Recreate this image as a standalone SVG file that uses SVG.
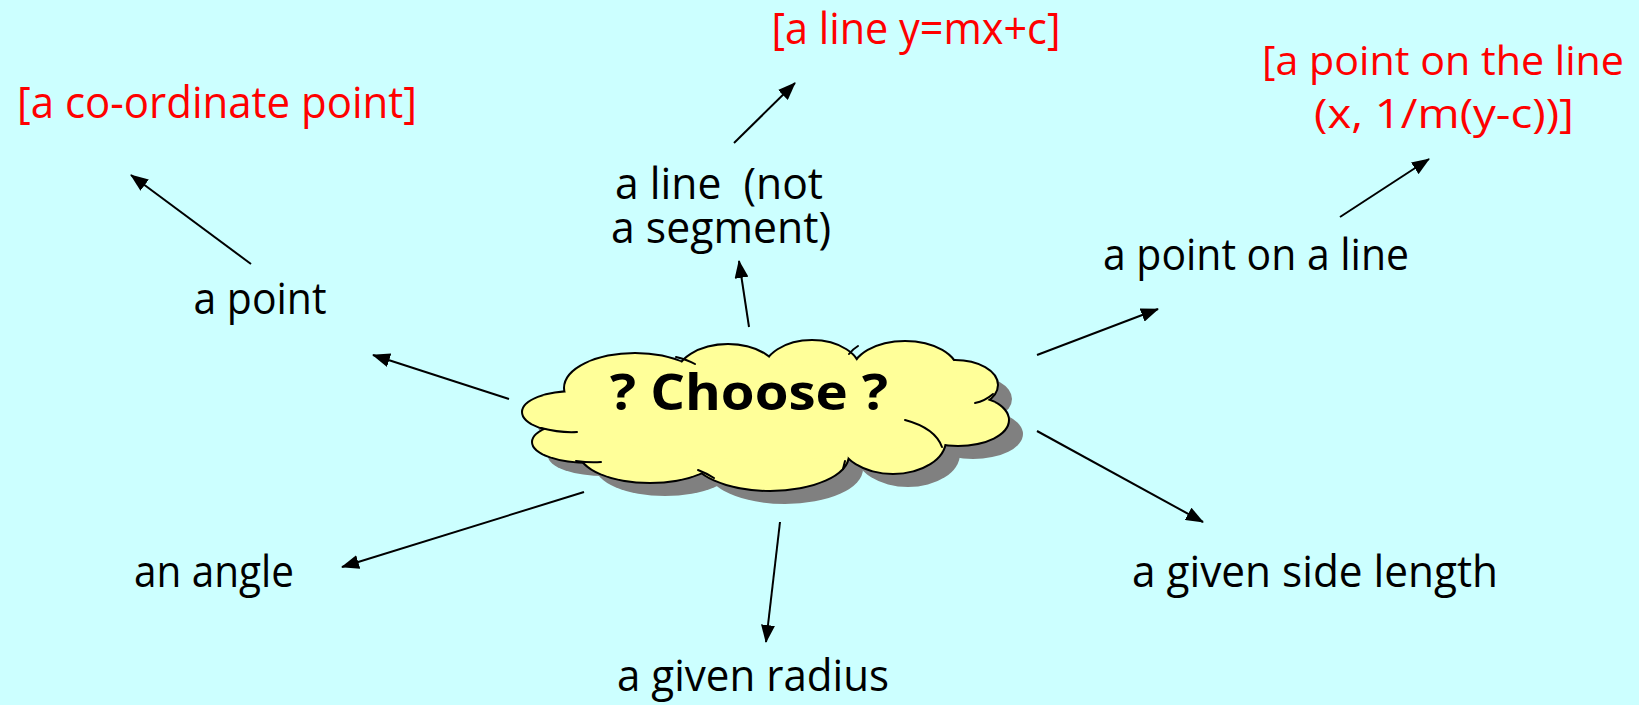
<svg xmlns="http://www.w3.org/2000/svg" width="1639" height="705" viewBox="0 0 1639 705">
<defs>
<style>
.t{font-family:"Open Sans","Noto Sans",sans-serif;font-size:44px;fill:#000;text-anchor:middle}
.r{fill:#FF0000}
.s{font-size:41px}
.b{font-weight:bold;font-size:50px}
.arc{stroke:#000;stroke-width:2;fill:none;stroke-linecap:round}
</style>
<marker id="ah" viewBox="0 0 18 14" refX="17" refY="7" markerWidth="18" markerHeight="14" markerUnits="userSpaceOnUse" orient="auto">
<path d="M0,0 L18,7 L0,14 z" fill="#000"/>
</marker>
<g id="blobs">
<ellipse cx="575" cy="412" rx="52" ry="20"/>
<ellipse cx="590" cy="442" rx="57" ry="20"/>
<ellipse cx="650" cy="452" rx="70" ry="30"/>
<ellipse cx="770" cy="455" rx="78" ry="35"/>
<ellipse cx="893" cy="440" rx="52" ry="33"/>
<ellipse cx="958" cy="420" rx="50" ry="25"/>
<ellipse cx="955" cy="385" rx="42" ry="24"/>
<ellipse cx="905" cy="372" rx="52" ry="30"/>
<ellipse cx="812" cy="372" rx="48" ry="31"/>
<ellipse cx="728" cy="378" rx="52" ry="33"/>
<ellipse cx="635" cy="388" rx="70" ry="34"/>
<ellipse cx="770" cy="412" rx="190" ry="48"/>
</g>
</defs>
<rect width="1639" height="705" fill="#CCFFFF"/>

<g id="cloud">
<use href="#blobs" fill="#808080" transform="translate(15,14)"/>
<use href="#blobs" fill="none" stroke="#000" stroke-width="4"/>
<use href="#blobs" fill="#FFFF99"/>
<path class="arc" d="M676,357 Q688,360 695,364"/>
<path class="arc" d="M858,346 Q853,349 849,354"/>
<path class="arc" d="M541,428 Q560,433 577,432"/>
<path class="arc" d="M576,461 Q590,463 601,462"/>
<path class="arc" d="M698,470 Q706,473 714,478"/>
<path class="arc" d="M845,461 Q844,465 843,469"/>
<path class="arc" d="M905,420 Q935,428 942,447"/>
<path class="arc" d="M993,394 Q985,401 975,403"/>
<text class="t b" x="749" y="410" textLength="278" lengthAdjust="spacingAndGlyphs">? Choose ?</text>
</g>

<g id="connectors" stroke="#000" stroke-width="2" fill="none" marker-end="url(#ah)">
<line x1="251" y1="264" x2="131" y2="175"/>
<line x1="734" y1="143" x2="795" y2="83"/>
<line x1="749" y1="327" x2="739" y2="261"/>
<line x1="509" y1="399" x2="373" y2="355"/>
<line x1="1037" y1="355" x2="1158" y2="309"/>
<line x1="584" y1="492" x2="342" y2="567"/>
<line x1="780" y1="522" x2="766" y2="642"/>
<line x1="1037" y1="431" x2="1203" y2="522"/>
<line x1="1340" y1="217" x2="1429" y2="159"/>
</g>

<g id="n-coord"><text class="t r" x="217" y="118" textLength="400" lengthAdjust="spacingAndGlyphs">[a co-ordinate point]</text></g>
<g id="n-yeq"><text class="t r" x="916" y="44" textLength="289" lengthAdjust="spacingAndGlyphs">[a line y=mx+c]</text></g>
<g id="n-pointline-red">
<text class="t r s" xml:space="preserve"><tspan x="1443" y="75" textLength="362" lengthAdjust="spacingAndGlyphs">[a point on the line</tspan><tspan x="1444" y="128" textLength="260" lengthAdjust="spacingAndGlyphs">(x, 1/m(y-c))]</tspan></text>
</g>
<g id="n-line">
<text class="t" xml:space="preserve"><tspan x="719" y="199" textLength="208" lengthAdjust="spacingAndGlyphs">a line  (not</tspan><tspan x="721" y="243" textLength="220" lengthAdjust="spacingAndGlyphs">a segment)</tspan></text>
</g>
<g id="n-pointonline"><text class="t" x="1256" y="270" textLength="306" lengthAdjust="spacingAndGlyphs">a point on a line</text></g>
<g id="n-point"><text class="t" x="260" y="314" textLength="133" lengthAdjust="spacingAndGlyphs">a point</text></g>
<g id="n-angle"><text class="t" x="214" y="587" textLength="160" lengthAdjust="spacingAndGlyphs">an angle</text></g>
<g id="n-radius"><text class="t" x="753" y="691" textLength="272" lengthAdjust="spacingAndGlyphs">a given radius</text></g>
<g id="n-side"><text class="t" x="1315" y="587" textLength="366" lengthAdjust="spacingAndGlyphs">a given side length</text></g>
</svg>
